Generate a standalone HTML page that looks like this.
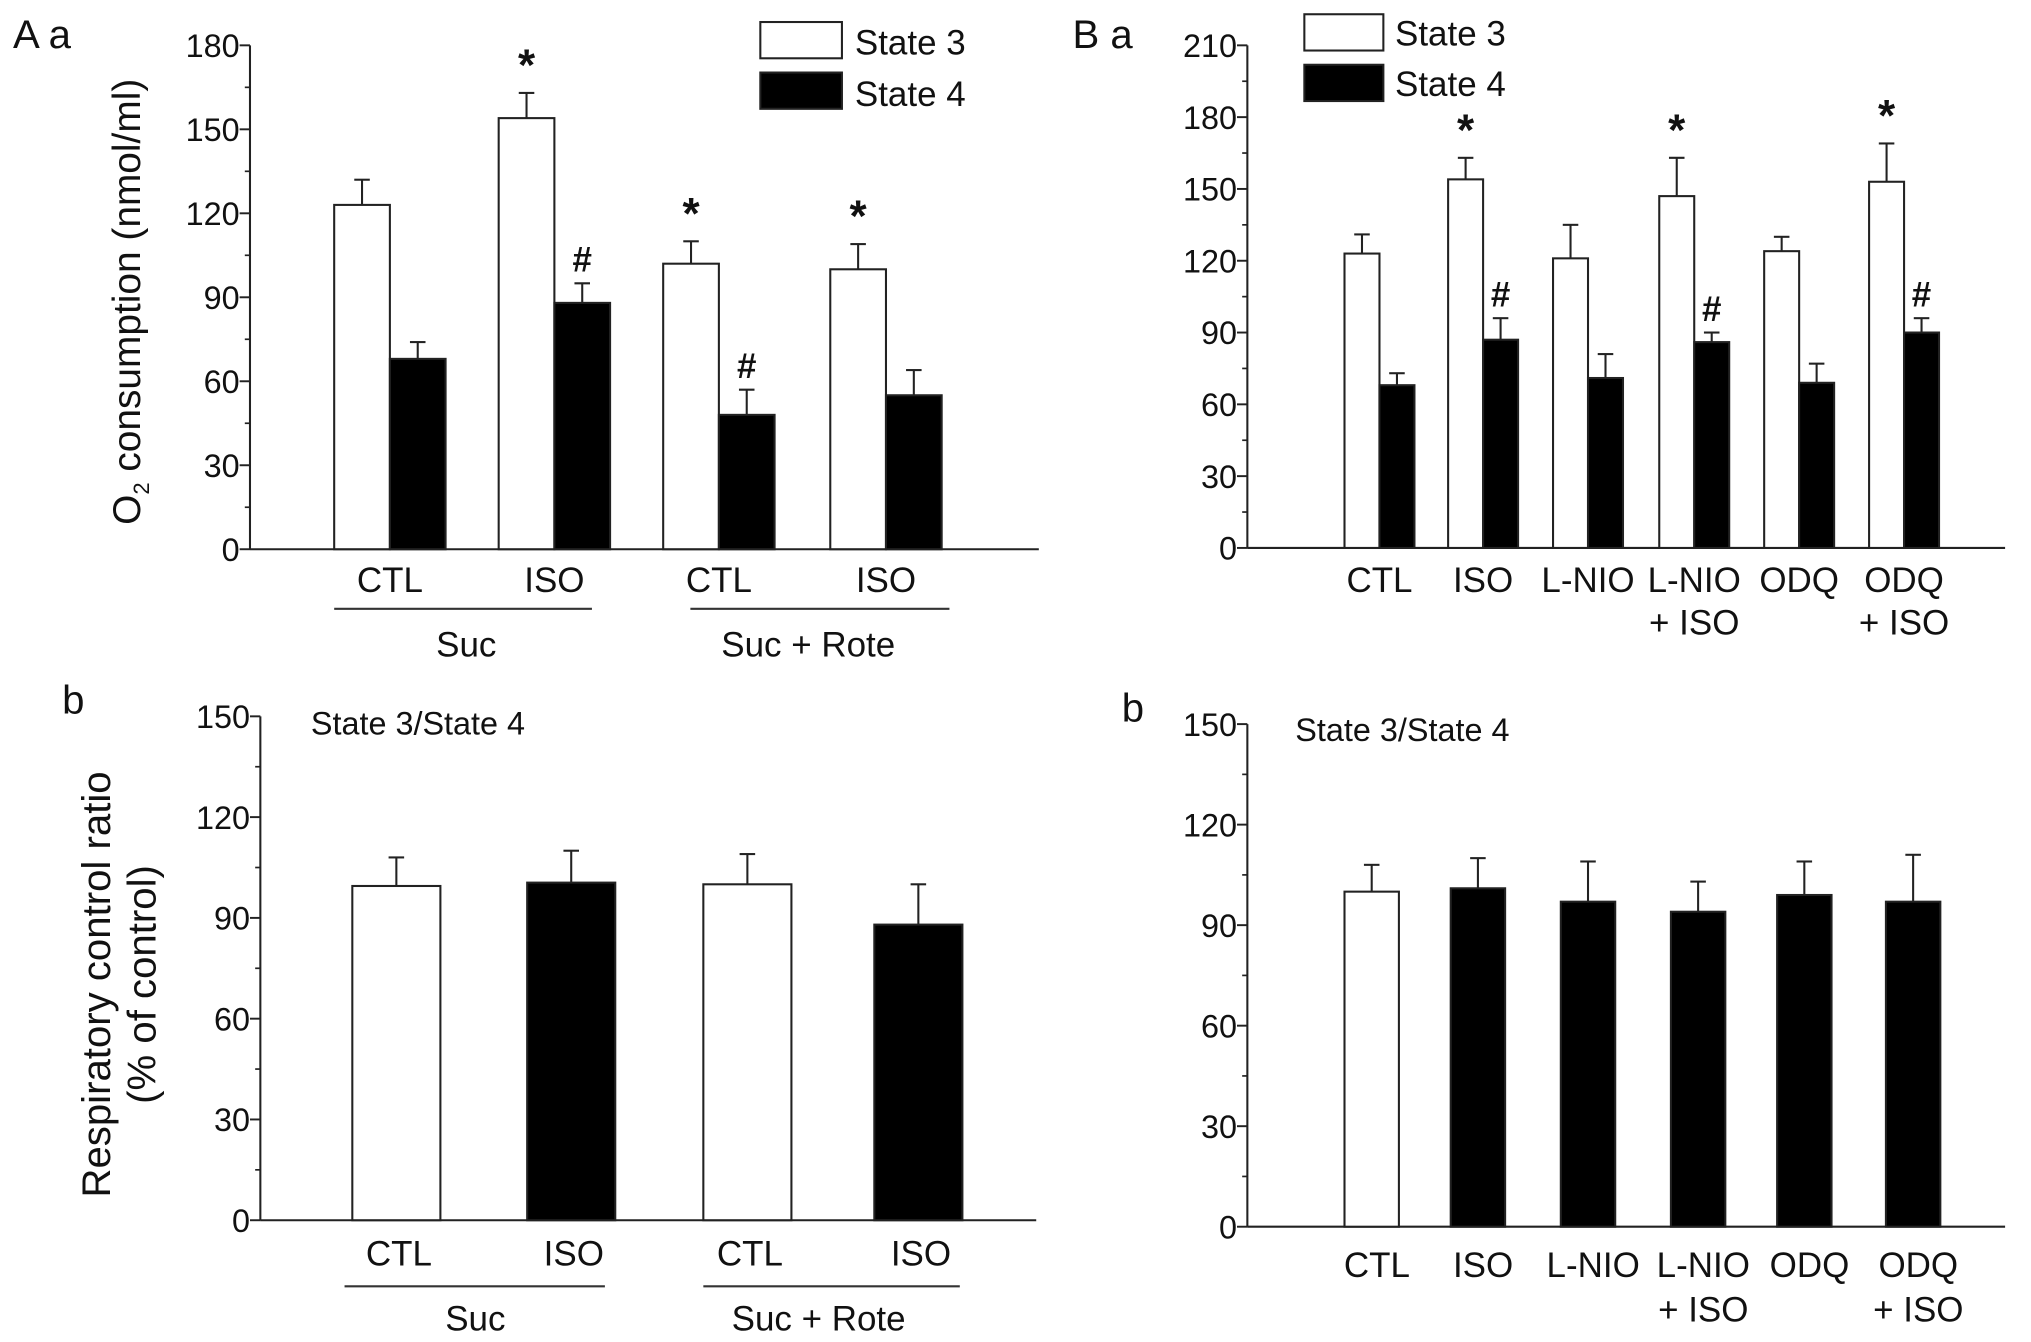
<!DOCTYPE html>
<html><head><meta charset="utf-8"><style>
html,body{margin:0;padding:0;background:#fff;}
svg{display:block;}
text{font-family:"Liberation Sans",sans-serif;fill:#111;}
</style></head><body>
<svg id="fig" width="2031" height="1342" viewBox="0 0 1568 1036" preserveAspectRatio="none" xmlns="http://www.w3.org/2000/svg"></svg>
<script>
// Panel A a
const aaCats = ["CTL","ISO","CTL","ISO"];
const aaState3 = [123,154,102,100];
const aaState3Err = [132,163,110,109];
const aaState4 = [68,88,48,55];
const aaState4Err = [74,95,57,64];
const aaStar = [false,true,true,true];
const aaHash = [false,true,true,false];
const aaTicks = [0,30,60,90,120,150,180];
// Panel A b
const abCats = ["CTL","ISO","CTL","ISO"];
const abValues = [99.5,100.5,100,88];
const abErr = [108,110,109,100];
const abFill = ["white","black","white","black"];
const abTicks = [0,30,60,90,120,150];
// Panel B a
const baCats = ["CTL","ISO","L-NIO","L-NIO","ODQ","ODQ"];
const baCats2 = ["","","","+ ISO","","+ ISO"];
const baState3 = [123,154,121,147,124,153];
const baState3Err = [131,163,135,163,130,169];
const baState4 = [68,87,71,86,69,90];
const baState4Err = [73,96,81,90,77,96];
const baStar = [false,true,false,true,false,true];
const baHash = [false,true,false,true,false,true];
const baTicks = [0,30,60,90,120,150,180,210];
// Panel B b
const bbCats = ["CTL","ISO","L-NIO","L-NIO","ODQ","ODQ"];
const bbCats2 = ["","","","+ ISO","","+ ISO"];
const bbValues = [100,101,97,94,99,97];
const bbErr = [108,110,109,103,109,111];
const bbFill = ["white","black","black","black","black","black"];
const bbTicks = [0,30,60,90,120,150];

const svg = document.getElementById('fig');
const NS = "http://www.w3.org/2000/svg";
function mk(tag, attrs, parent){
  const e = document.createElementNS(NS, tag);
  for (const k in attrs) e.setAttribute(k, attrs[k]);
  (parent||svg).appendChild(e);
  return e;
}
function txt(x,y,s,size,anchor,parent,weight){
  const t = mk('text',{x:x,y:y,'font-size':size,'text-anchor':anchor||'middle','font-weight':weight||'normal'},parent);
  t.textContent = s;
  return t;
}
function axis(g, ax, y0, yTop, xEnd, ticks){
  const max = ticks[ticks.length-1];
  const sy = v => y0 - (v/max)*(y0-yTop);
  const yl = mk('line',{x1:ax,y1:y0,x2:ax,y2:yTop,stroke:'#222','stroke-width':1.6},g);
  
  
  const xl = mk('line',{x1:ax,y1:y0,x2:xEnd,y2:y0,stroke:'#222','stroke-width':1.6},g);
  
  
  ticks.forEach((t,i)=>{
    mk('line',{x1:ax-8,y1:sy(t),x2:ax,y2:sy(t),stroke:'#222','stroke-width':1.5},g);
    const lab = txt(ax-8, sy(t)+9, String(t), 25, 'end', g);
    
    
    if (i < ticks.length-1){
      const m = (t + ticks[i+1])/2;
      mk('line',{x1:ax-4,y1:sy(m),x2:ax,y2:sy(m),stroke:'#222','stroke-width':1.3},g);
    }
  });
  return sy;
}
function bar(g, x, w, v, err, fill, sy, y0, name){
  const top = sy(v);
  mk('line',{x1:x+w/2,y1:top,x2:x+w/2,y2:sy(err),stroke:'#222','stroke-width':1.6},g);
  mk('line',{x1:x+w/2-6,y1:sy(err),x2:x+w/2+6,y2:sy(err),stroke:'#222','stroke-width':1.6},g);
  const r = mk('rect',{x:x,y:top,width:w,height:y0-top,fill:fill,stroke:'#222','stroke-width':1.6},g);
  
  
  return top;
}

// ---------- Panel A a ----------
const gAa = mk('g',{});


txt(10,37,"A a",31,'start',gAa);
const syAa = axis(gAa,193,424,35,802,aaTicks);
const aaX = [258,385,512,641];
aaCats.forEach((c,i)=>{
  const x = aaX[i], w = 43;
  bar(gAa,x,w,aaState3[i],aaState3Err[i],'white',syAa,424,'bar-state3-'+i);
  bar(gAa,x+w,w,aaState4[i],aaState4Err[i],'black',syAa,424,'bar-state4-'+i);
  if (aaStar[i]) txt(x+w/2, syAa(aaState3Err[i])-10, "*", 34, 'middle', gAa, 'bold');
  if (aaHash[i]) txt(x+w*1.5, syAa(aaState4Err[i])-9, "#", 27, 'middle', gAa, 'bold');
  const l = txt(x+w, 457, c, 27, 'middle', gAa);
  
  
});
mk('line',{x1:258,y1:470,x2:457,y2:470,stroke:'#333','stroke-width':1.6},gAa);
mk('line',{x1:533,y1:470,x2:733,y2:470,stroke:'#333','stroke-width':1.6},gAa);
txt(360,507,"Suc",27,'middle',gAa);
txt(624,507,"Suc + Rote",27,'middle',gAa);
const ylA = mk('text',{x:0,y:0,'font-size':30,'text-anchor':'middle',transform:'translate(108,233) rotate(-90)'},gAa);


ylA.innerHTML = 'O<tspan font-size="17" dy="7">2</tspan><tspan dy="-7"> consumption (nmol/ml)</tspan>';
const lg1 = mk('rect',{x:587,y:17,width:63,height:28,fill:'white',stroke:'#222','stroke-width':1.6},gAa);


txt(660,42,"State 3",27,'start',gAa);
const lg2 = mk('rect',{x:587,y:56,width:63,height:28,fill:'black',stroke:'#222','stroke-width':1.6},gAa);


txt(660,82,"State 4",27,'start',gAa);

// ---------- Panel A b ----------
const gAb = mk('g',{});


txt(48,551,"b",31,'start',gAb);
const syAb = axis(gAb,201,942,553,800,abTicks);
const abX = [272,407,543,675];
abCats.forEach((c,i)=>{
  bar(gAb,abX[i],68,abValues[i],abErr[i],abFill[i],syAb,942,'bar-ratio-'+i);
  const l = txt(abX[i]+36, 977, c, 27, 'middle', gAb);
  
  
});
mk('line',{x1:266,y1:993,x2:467,y2:993,stroke:'#333','stroke-width':1.6},gAb);
mk('line',{x1:543,y1:993,x2:741,y2:993,stroke:'#333','stroke-width':1.6},gAb);
txt(367,1027,"Suc",27,'middle',gAb);
txt(632,1027,"Suc + Rote",27,'middle',gAb);
txt(240,567,"State 3/State 4",25,'start',gAb);
const ylB = mk('text',{x:0,y:0,'font-size':31,'text-anchor':'middle',transform:'translate(85,760) rotate(-90)'},gAb);


ylB.textContent = 'Respiratory control ratio';
const ylB2 = mk('text',{x:0,y:0,'font-size':31,'text-anchor':'middle',transform:'translate(120,760) rotate(-90)'},gAb);


ylB2.textContent = '(% of control)';

// ---------- Panel B a ----------
const gBa = mk('g',{});


txt(828,37,"B a",31,'start',gBa);
const syBa = axis(gBa,963,423,35,1548,baTicks);
const baX = [1038,1118,1199,1281,1362,1443];
baCats.forEach((c,i)=>{
  const x = baX[i], w = 27;
  bar(gBa,x,w,baState3[i],baState3Err[i],'white',syBa,423,'bar-state3-'+i);
  bar(gBa,x+w,w,baState4[i],baState4Err[i],'black',syBa,423,'bar-state4-'+i);
  if (baStar[i]) txt(x+w/2, syBa(baState3Err[i])-10, "*", 34, 'middle', gBa, 'bold');
  if (baHash[i]) txt(x+w*1.5, syBa(baState4Err[i])-9, "#", 27, 'middle', gBa, 'bold');
  const l = txt(x+w, 457, c, 27, 'middle', gBa);
  
  
  if (baCats2[i]) txt(x+w, 490, baCats2[i], 27, 'middle', gBa);
});
const lg3 = mk('rect',{x:1007,y:11,width:61,height:28,fill:'white',stroke:'#222','stroke-width':1.6},gBa);


txt(1077,35,"State 3",27,'start',gBa);
const lg4 = mk('rect',{x:1007,y:50,width:61,height:28,fill:'black',stroke:'#222','stroke-width':1.6},gBa);


txt(1077,74,"State 4",27,'start',gBa);

// ---------- Panel B b ----------
const gBb = mk('g',{});


txt(866,557,"b",31,'start',gBb);
const syBb = axis(gBb,963,947,559,1548,bbTicks);
const bbX = [1038,1120,1205,1290,1372,1456];
bbCats.forEach((c,i)=>{
  bar(gBb,bbX[i],42,bbValues[i],bbErr[i],bbFill[i],syBb,947,'bar-ratio-'+i);
  const l = txt(bbX[i]+25, 986, c, 27, 'middle', gBb);
  
  
  if (bbCats2[i]) txt(bbX[i]+25, 1020, bbCats2[i], 27, 'middle', gBb);
});
txt(1000,572,"State 3/State 4",25,'start',gBb);
</script>
</body></html>
